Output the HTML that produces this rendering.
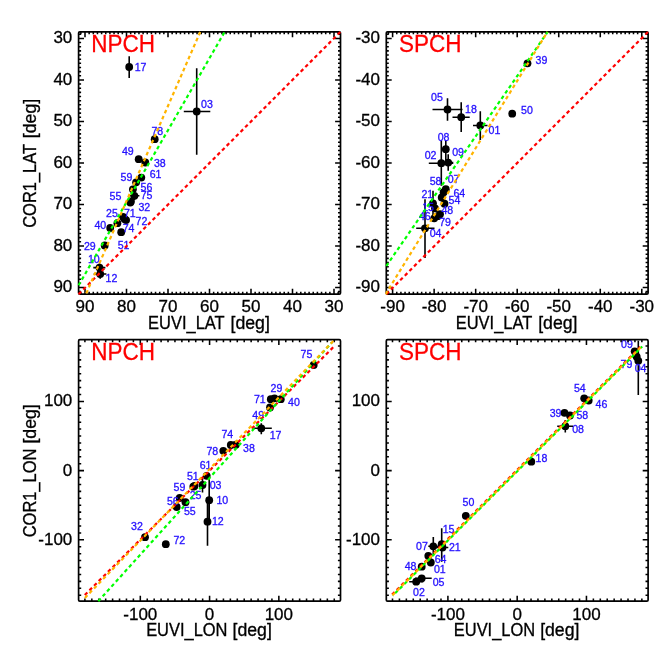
<!DOCTYPE html><html><head><meta charset="utf-8"><title>plot</title><style>html,body{margin:0;padding:0;background:#fff}svg{display:block;will-change:transform}text{font-family:"Liberation Sans",sans-serif}.t{font-size:17px;fill:#000;stroke:#000;stroke-width:0.3px}.l{font-size:10.6px;fill:#2410ff;stroke:#2410ff;stroke-width:0.3px}.p{font-size:22.5px;fill:#f00;stroke:#f00;stroke-width:0.25px}</style></head><body>
<svg width="654" height="654" viewBox="0 0 654 654">
<rect width="654" height="654" fill="#fff"/>
<defs>
<clipPath id="c0"><rect x="77.6" y="30.8" width="263.90" height="264.40"/></clipPath>
<clipPath id="c1"><rect x="385.3" y="30.8" width="263.80" height="264.40"/></clipPath>
<clipPath id="c2"><rect x="77.6" y="338.7" width="263.90" height="263.50"/></clipPath>
<clipPath id="c3"><rect x="385.3" y="338.7" width="263.80" height="263.50"/></clipPath>
</defs>
<path d="M129.2 56.3V78M183.8 111.5H210.3M196.7 68.3V154.7M129.4 195.8H139.4M134.4 191.3V200.3M93.3 267.6H105.4M99.5 263.5V271.7M93.7 274H106.4M100.2 269.4V278.8" stroke="#000" stroke-width="1.6" fill="none"/>
<circle cx="129.2" cy="67" r="3.9"/>
<circle cx="196.7" cy="111.5" r="3.9"/>
<circle cx="154.7" cy="139.2" r="3.9"/>
<circle cx="138.7" cy="159.2" r="3.9"/>
<circle cx="145.3" cy="162.5" r="3.9"/>
<circle cx="141.3" cy="177.6" r="3.9"/>
<circle cx="136.1" cy="182.3" r="3.9"/>
<circle cx="132.9" cy="189.3" r="3.9"/>
<circle cx="134.4" cy="195.8" r="3.9"/>
<circle cx="130.3" cy="202.6" r="3.9"/>
<circle cx="130.9" cy="201.4" r="3.9"/>
<circle cx="117.4" cy="223.2" r="3.9"/>
<circle cx="123" cy="216.8" r="3.9"/>
<circle cx="126.1" cy="220.1" r="3.9"/>
<circle cx="110.2" cy="228" r="3.9"/>
<circle cx="121.2" cy="232.2" r="3.9"/>
<circle cx="124.5" cy="219" r="3.9"/>
<circle cx="104.7" cy="245.5" r="3.9"/>
<circle cx="99.5" cy="267.6" r="3.9"/>
<circle cx="100.2" cy="274" r="3.9"/>
<text x="134.7" y="71.3" class="l">17</text>
<text x="201.0" y="107.5" class="l">03</text>
<text x="151.39999999999998" y="135" class="l">78</text>
<text x="121.9" y="155.3" class="l">49</text>
<text x="153.89999999999998" y="166.7" class="l">38</text>
<text x="149.7" y="177.5" class="l">61</text>
<text x="120.5" y="181.3" class="l">59</text>
<text x="140.5" y="190.8" class="l">56</text>
<text x="140.7" y="199.2" class="l">75</text>
<text x="109.5" y="200.3" class="l">55</text>
<text x="138.39999999999998" y="211" class="l">32</text>
<text x="106.0" y="216.7" class="l">25</text>
<text x="123.9" y="216.7" class="l">71</text>
<text x="135.5" y="224.5" class="l">72</text>
<text x="94.4" y="228.8" class="l">40</text>
<text x="122.7" y="231.7" class="l">74</text>
<text x="117.7" y="248.7" class="l">51</text>
<text x="83.9" y="250" class="l">29</text>
<text x="87.9" y="263.1" class="l">10</text>
<text x="105.5" y="282.0" class="l">12</text>
<rect x="78.6" y="31.8" width="261.90" height="262.40" fill="none" stroke="#000" stroke-width="1.7" stroke-linejoin="round" rx="1.2"/>
<path d="M338.15 31.8v2.5M338.15 294.2v-2.5M334.00 31.8v5.4M334.00 294.2v-5.4M329.85 31.8v2.5M329.85 294.2v-2.5M325.70 31.8v2.5M325.70 294.2v-2.5M321.55 31.8v2.5M321.55 294.2v-2.5M317.40 31.8v2.5M317.40 294.2v-2.5M313.25 31.8v2.5M313.25 294.2v-2.5M309.10 31.8v2.5M309.10 294.2v-2.5M304.95 31.8v2.5M304.95 294.2v-2.5M300.80 31.8v2.5M300.80 294.2v-2.5M296.65 31.8v2.5M296.65 294.2v-2.5M292.50 31.8v5.4M292.50 294.2v-5.4M288.35 31.8v2.5M288.35 294.2v-2.5M284.20 31.8v2.5M284.20 294.2v-2.5M280.05 31.8v2.5M280.05 294.2v-2.5M275.90 31.8v2.5M275.90 294.2v-2.5M271.75 31.8v2.5M271.75 294.2v-2.5M267.60 31.8v2.5M267.60 294.2v-2.5M263.45 31.8v2.5M263.45 294.2v-2.5M259.30 31.8v2.5M259.30 294.2v-2.5M255.15 31.8v2.5M255.15 294.2v-2.5M251.00 31.8v5.4M251.00 294.2v-5.4M246.85 31.8v2.5M246.85 294.2v-2.5M242.70 31.8v2.5M242.70 294.2v-2.5M238.55 31.8v2.5M238.55 294.2v-2.5M234.40 31.8v2.5M234.40 294.2v-2.5M230.25 31.8v2.5M230.25 294.2v-2.5M226.10 31.8v2.5M226.10 294.2v-2.5M221.95 31.8v2.5M221.95 294.2v-2.5M217.80 31.8v2.5M217.80 294.2v-2.5M213.65 31.8v2.5M213.65 294.2v-2.5M209.50 31.8v5.4M209.50 294.2v-5.4M205.35 31.8v2.5M205.35 294.2v-2.5M201.20 31.8v2.5M201.20 294.2v-2.5M197.05 31.8v2.5M197.05 294.2v-2.5M192.90 31.8v2.5M192.90 294.2v-2.5M188.75 31.8v2.5M188.75 294.2v-2.5M184.60 31.8v2.5M184.60 294.2v-2.5M180.45 31.8v2.5M180.45 294.2v-2.5M176.30 31.8v2.5M176.30 294.2v-2.5M172.15 31.8v2.5M172.15 294.2v-2.5M168.00 31.8v5.4M168.00 294.2v-5.4M163.85 31.8v2.5M163.85 294.2v-2.5M159.70 31.8v2.5M159.70 294.2v-2.5M155.55 31.8v2.5M155.55 294.2v-2.5M151.40 31.8v2.5M151.40 294.2v-2.5M147.25 31.8v2.5M147.25 294.2v-2.5M143.10 31.8v2.5M143.10 294.2v-2.5M138.95 31.8v2.5M138.95 294.2v-2.5M134.80 31.8v2.5M134.80 294.2v-2.5M130.65 31.8v2.5M130.65 294.2v-2.5M126.50 31.8v5.4M126.50 294.2v-5.4M122.35 31.8v2.5M122.35 294.2v-2.5M118.20 31.8v2.5M118.20 294.2v-2.5M114.05 31.8v2.5M114.05 294.2v-2.5M109.90 31.8v2.5M109.90 294.2v-2.5M105.75 31.8v2.5M105.75 294.2v-2.5M101.60 31.8v2.5M101.60 294.2v-2.5M97.45 31.8v2.5M97.45 294.2v-2.5M93.30 31.8v2.5M93.30 294.2v-2.5M89.15 31.8v2.5M89.15 294.2v-2.5M85.00 31.8v5.4M85.00 294.2v-5.4M80.85 31.8v2.5M80.85 294.2v-2.5M78.6 34.25h2.5M340.5 34.25h-2.5M78.6 38.40h5.4M340.5 38.40h-5.4M78.6 42.55h2.5M340.5 42.55h-2.5M78.6 46.70h2.5M340.5 46.70h-2.5M78.6 50.85h2.5M340.5 50.85h-2.5M78.6 55.00h2.5M340.5 55.00h-2.5M78.6 59.15h2.5M340.5 59.15h-2.5M78.6 63.30h2.5M340.5 63.30h-2.5M78.6 67.46h2.5M340.5 67.46h-2.5M78.6 71.61h2.5M340.5 71.61h-2.5M78.6 75.76h2.5M340.5 75.76h-2.5M78.6 79.91h5.4M340.5 79.91h-5.4M78.6 84.06h2.5M340.5 84.06h-2.5M78.6 88.21h2.5M340.5 88.21h-2.5M78.6 92.36h2.5M340.5 92.36h-2.5M78.6 96.51h2.5M340.5 96.51h-2.5M78.6 100.66h2.5M340.5 100.66h-2.5M78.6 104.81h2.5M340.5 104.81h-2.5M78.6 108.96h2.5M340.5 108.96h-2.5M78.6 113.11h2.5M340.5 113.11h-2.5M78.6 117.27h2.5M340.5 117.27h-2.5M78.6 121.42h5.4M340.5 121.42h-5.4M78.6 125.57h2.5M340.5 125.57h-2.5M78.6 129.72h2.5M340.5 129.72h-2.5M78.6 133.87h2.5M340.5 133.87h-2.5M78.6 138.02h2.5M340.5 138.02h-2.5M78.6 142.17h2.5M340.5 142.17h-2.5M78.6 146.32h2.5M340.5 146.32h-2.5M78.6 150.47h2.5M340.5 150.47h-2.5M78.6 154.62h2.5M340.5 154.62h-2.5M78.6 158.77h2.5M340.5 158.77h-2.5M78.6 162.92h5.4M340.5 162.92h-5.4M78.6 167.08h2.5M340.5 167.08h-2.5M78.6 171.23h2.5M340.5 171.23h-2.5M78.6 175.38h2.5M340.5 175.38h-2.5M78.6 179.53h2.5M340.5 179.53h-2.5M78.6 183.68h2.5M340.5 183.68h-2.5M78.6 187.83h2.5M340.5 187.83h-2.5M78.6 191.98h2.5M340.5 191.98h-2.5M78.6 196.13h2.5M340.5 196.13h-2.5M78.6 200.28h2.5M340.5 200.28h-2.5M78.6 204.43h5.4M340.5 204.43h-5.4M78.6 208.58h2.5M340.5 208.58h-2.5M78.6 212.73h2.5M340.5 212.73h-2.5M78.6 216.89h2.5M340.5 216.89h-2.5M78.6 221.04h2.5M340.5 221.04h-2.5M78.6 225.19h2.5M340.5 225.19h-2.5M78.6 229.34h2.5M340.5 229.34h-2.5M78.6 233.49h2.5M340.5 233.49h-2.5M78.6 237.64h2.5M340.5 237.64h-2.5M78.6 241.79h2.5M340.5 241.79h-2.5M78.6 245.94h5.4M340.5 245.94h-5.4M78.6 250.09h2.5M340.5 250.09h-2.5M78.6 254.24h2.5M340.5 254.24h-2.5M78.6 258.39h2.5M340.5 258.39h-2.5M78.6 262.54h2.5M340.5 262.54h-2.5M78.6 266.70h2.5M340.5 266.70h-2.5M78.6 270.85h2.5M340.5 270.85h-2.5M78.6 275.00h2.5M340.5 275.00h-2.5M78.6 279.15h2.5M340.5 279.15h-2.5M78.6 283.30h2.5M340.5 283.30h-2.5M78.6 287.45h5.4M340.5 287.45h-5.4M78.6 291.60h2.5M340.5 291.60h-2.5" stroke="#000" stroke-width="1.55" fill="none"/>
<g clip-path="url(#c0)">
<line x1="78.6" y1="294.2" x2="340.5" y2="31.8" stroke="#ff0000" stroke-width="2.2" stroke-dasharray="3.6 2.95" stroke-dashoffset="0"/>
<line x1="78.6" y1="285.3" x2="224.6" y2="32" stroke="#00ff00" stroke-width="2.2" stroke-dasharray="3.6 2.95" stroke-dashoffset="0"/>
<line x1="86.3" y1="293.4" x2="200.2" y2="32" stroke="#ffb400" stroke-width="2.2" stroke-dasharray="3.6 2.95" stroke-dashoffset="0"/>
</g>
<text x="85.00" y="312.2" text-anchor="middle" class="t">90</text>
<text x="126.50" y="312.2" text-anchor="middle" class="t">80</text>
<text x="168.00" y="312.2" text-anchor="middle" class="t">70</text>
<text x="209.50" y="312.2" text-anchor="middle" class="t">60</text>
<text x="251.00" y="312.2" text-anchor="middle" class="t">50</text>
<text x="292.50" y="312.2" text-anchor="middle" class="t">40</text>
<text x="334.00" y="312.2" text-anchor="middle" class="t">30</text>
<text x="72.3" y="43.30" text-anchor="end" class="t">30</text>
<text x="72.3" y="84.81" text-anchor="end" class="t">40</text>
<text x="72.3" y="126.32" text-anchor="end" class="t">50</text>
<text x="72.3" y="167.82" text-anchor="end" class="t">60</text>
<text x="72.3" y="209.33" text-anchor="end" class="t">70</text>
<text x="72.3" y="250.84" text-anchor="end" class="t">80</text>
<text x="72.3" y="292.35" text-anchor="end" class="t">90</text>
<text transform="translate(91.3 51.8) scale(1.0 1.1)" class="p">NPCH</text>
<text transform="translate(148.11 328.6) scale(0.968 1.06)" class="t">EUVI_LAT</text><text transform="translate(230.50 328.6) scale(1.04 1.06)" class="t">[deg]</text>
<g transform="translate(35.5 163.00) rotate(-90)"><text transform="translate(-64.78 0) scale(0.968 1.06)" class="t">COR1_LAT</text><text transform="translate(24.82 0) scale(1.04 1.06)" class="t">[deg]</text></g>
<path d="M432.5 109.5H462.5M447.5 98.3V120.8M452.5 117.2H469.7M461.2 102.2V132M473 125.5H487.5M480.3 111.2V140M445.8 140.5V160M428.8 163.2H453.3M441.3 140.5V185.8M444 162.6H453.3M448.2 154.3V170.8M433 190.8V216M416.2 228.3H434.5M425 199.2V258" stroke="#000" stroke-width="1.6" fill="none"/>
<circle cx="527.5" cy="63.3" r="3.9"/>
<circle cx="447.5" cy="109.5" r="3.9"/>
<circle cx="461.2" cy="117.2" r="3.9"/>
<circle cx="480.3" cy="125.5" r="3.9"/>
<circle cx="512.2" cy="113.7" r="3.9"/>
<circle cx="445.8" cy="149.2" r="3.9"/>
<circle cx="441.3" cy="163.2" r="3.9"/>
<circle cx="448.2" cy="162.6" r="3.9"/>
<circle cx="445.8" cy="189.2" r="3.9"/>
<circle cx="443.6" cy="192.2" r="3.9"/>
<circle cx="441.7" cy="197.5" r="3.9"/>
<circle cx="444.5" cy="203.7" r="3.9"/>
<circle cx="433" cy="203.3" r="3.9"/>
<circle cx="435" cy="208.3" r="3.9"/>
<circle cx="440" cy="214.2" r="3.9"/>
<circle cx="434.2" cy="218.3" r="3.9"/>
<circle cx="437.6" cy="216.2" r="3.9"/>
<circle cx="425" cy="228.3" r="3.9"/>
<text x="535.5" y="63.7" class="l">39</text>
<text x="431.0" y="101.2" class="l">05</text>
<text x="465.0" y="113" class="l">18</text>
<text x="488.5" y="133.8" class="l">01</text>
<text x="521.0" y="113.9" class="l">50</text>
<text x="437.7" y="140.8" class="l">08</text>
<text x="424.7" y="159.2" class="l">02</text>
<text x="452.2" y="156" class="l">09</text>
<text x="447.7" y="183.3" class="l">07</text>
<text x="429.7" y="185" class="l">58</text>
<text x="453.4" y="196.7" class="l">64</text>
<text x="448.5" y="204.2" class="l">54</text>
<text x="421.4" y="198" class="l">21</text>
<text x="422.2" y="211.3" class="l">15</text>
<text x="441.4" y="213.8" class="l">48</text>
<text x="418.9" y="219.7" class="l">46</text>
<text x="439.2" y="226.3" class="l">79</text>
<text x="429.7" y="237.2" class="l">04</text>
<rect x="386.3" y="31.8" width="261.80" height="262.40" fill="none" stroke="#000" stroke-width="1.7" stroke-linejoin="round" rx="1.2"/>
<path d="M388.45 31.8v2.5M388.45 294.2v-2.5M392.60 31.8v5.4M392.60 294.2v-5.4M396.75 31.8v2.5M396.75 294.2v-2.5M400.91 31.8v2.5M400.91 294.2v-2.5M405.06 31.8v2.5M405.06 294.2v-2.5M409.21 31.8v2.5M409.21 294.2v-2.5M413.37 31.8v2.5M413.37 294.2v-2.5M417.52 31.8v2.5M417.52 294.2v-2.5M421.67 31.8v2.5M421.67 294.2v-2.5M425.83 31.8v2.5M425.83 294.2v-2.5M429.98 31.8v2.5M429.98 294.2v-2.5M434.13 31.8v5.4M434.13 294.2v-5.4M438.29 31.8v2.5M438.29 294.2v-2.5M442.44 31.8v2.5M442.44 294.2v-2.5M446.59 31.8v2.5M446.59 294.2v-2.5M450.75 31.8v2.5M450.75 294.2v-2.5M454.90 31.8v2.5M454.90 294.2v-2.5M459.05 31.8v2.5M459.05 294.2v-2.5M463.21 31.8v2.5M463.21 294.2v-2.5M467.36 31.8v2.5M467.36 294.2v-2.5M471.51 31.8v2.5M471.51 294.2v-2.5M475.67 31.8v5.4M475.67 294.2v-5.4M479.82 31.8v2.5M479.82 294.2v-2.5M483.97 31.8v2.5M483.97 294.2v-2.5M488.13 31.8v2.5M488.13 294.2v-2.5M492.28 31.8v2.5M492.28 294.2v-2.5M496.43 31.8v2.5M496.43 294.2v-2.5M500.59 31.8v2.5M500.59 294.2v-2.5M504.74 31.8v2.5M504.74 294.2v-2.5M508.89 31.8v2.5M508.89 294.2v-2.5M513.05 31.8v2.5M513.05 294.2v-2.5M517.20 31.8v5.4M517.20 294.2v-5.4M521.35 31.8v2.5M521.35 294.2v-2.5M525.51 31.8v2.5M525.51 294.2v-2.5M529.66 31.8v2.5M529.66 294.2v-2.5M533.81 31.8v2.5M533.81 294.2v-2.5M537.97 31.8v2.5M537.97 294.2v-2.5M542.12 31.8v2.5M542.12 294.2v-2.5M546.27 31.8v2.5M546.27 294.2v-2.5M550.43 31.8v2.5M550.43 294.2v-2.5M554.58 31.8v2.5M554.58 294.2v-2.5M558.73 31.8v5.4M558.73 294.2v-5.4M562.89 31.8v2.5M562.89 294.2v-2.5M567.04 31.8v2.5M567.04 294.2v-2.5M571.19 31.8v2.5M571.19 294.2v-2.5M575.35 31.8v2.5M575.35 294.2v-2.5M579.50 31.8v2.5M579.50 294.2v-2.5M583.65 31.8v2.5M583.65 294.2v-2.5M587.81 31.8v2.5M587.81 294.2v-2.5M591.96 31.8v2.5M591.96 294.2v-2.5M596.11 31.8v2.5M596.11 294.2v-2.5M600.27 31.8v5.4M600.27 294.2v-5.4M604.42 31.8v2.5M604.42 294.2v-2.5M608.57 31.8v2.5M608.57 294.2v-2.5M612.73 31.8v2.5M612.73 294.2v-2.5M616.88 31.8v2.5M616.88 294.2v-2.5M621.03 31.8v2.5M621.03 294.2v-2.5M625.19 31.8v2.5M625.19 294.2v-2.5M629.34 31.8v2.5M629.34 294.2v-2.5M633.49 31.8v2.5M633.49 294.2v-2.5M637.65 31.8v2.5M637.65 294.2v-2.5M641.80 31.8v5.4M641.80 294.2v-5.4M645.95 31.8v2.5M645.95 294.2v-2.5M386.3 291.60h2.5M648.1 291.60h-2.5M386.3 287.45h5.4M648.1 287.45h-5.4M386.3 283.30h2.5M648.1 283.30h-2.5M386.3 279.15h2.5M648.1 279.15h-2.5M386.3 275.00h2.5M648.1 275.00h-2.5M386.3 270.85h2.5M648.1 270.85h-2.5M386.3 266.70h2.5M648.1 266.70h-2.5M386.3 262.54h2.5M648.1 262.54h-2.5M386.3 258.39h2.5M648.1 258.39h-2.5M386.3 254.24h2.5M648.1 254.24h-2.5M386.3 250.09h2.5M648.1 250.09h-2.5M386.3 245.94h5.4M648.1 245.94h-5.4M386.3 241.79h2.5M648.1 241.79h-2.5M386.3 237.64h2.5M648.1 237.64h-2.5M386.3 233.49h2.5M648.1 233.49h-2.5M386.3 229.34h2.5M648.1 229.34h-2.5M386.3 225.19h2.5M648.1 225.19h-2.5M386.3 221.04h2.5M648.1 221.04h-2.5M386.3 216.89h2.5M648.1 216.89h-2.5M386.3 212.73h2.5M648.1 212.73h-2.5M386.3 208.58h2.5M648.1 208.58h-2.5M386.3 204.43h5.4M648.1 204.43h-5.4M386.3 200.28h2.5M648.1 200.28h-2.5M386.3 196.13h2.5M648.1 196.13h-2.5M386.3 191.98h2.5M648.1 191.98h-2.5M386.3 187.83h2.5M648.1 187.83h-2.5M386.3 183.68h2.5M648.1 183.68h-2.5M386.3 179.53h2.5M648.1 179.53h-2.5M386.3 175.38h2.5M648.1 175.38h-2.5M386.3 171.23h2.5M648.1 171.23h-2.5M386.3 167.08h2.5M648.1 167.08h-2.5M386.3 162.92h5.4M648.1 162.92h-5.4M386.3 158.77h2.5M648.1 158.77h-2.5M386.3 154.62h2.5M648.1 154.62h-2.5M386.3 150.47h2.5M648.1 150.47h-2.5M386.3 146.32h2.5M648.1 146.32h-2.5M386.3 142.17h2.5M648.1 142.17h-2.5M386.3 138.02h2.5M648.1 138.02h-2.5M386.3 133.87h2.5M648.1 133.87h-2.5M386.3 129.72h2.5M648.1 129.72h-2.5M386.3 125.57h2.5M648.1 125.57h-2.5M386.3 121.42h5.4M648.1 121.42h-5.4M386.3 117.27h2.5M648.1 117.27h-2.5M386.3 113.11h2.5M648.1 113.11h-2.5M386.3 108.96h2.5M648.1 108.96h-2.5M386.3 104.81h2.5M648.1 104.81h-2.5M386.3 100.66h2.5M648.1 100.66h-2.5M386.3 96.51h2.5M648.1 96.51h-2.5M386.3 92.36h2.5M648.1 92.36h-2.5M386.3 88.21h2.5M648.1 88.21h-2.5M386.3 84.06h2.5M648.1 84.06h-2.5M386.3 79.91h5.4M648.1 79.91h-5.4M386.3 75.76h2.5M648.1 75.76h-2.5M386.3 71.61h2.5M648.1 71.61h-2.5M386.3 67.46h2.5M648.1 67.46h-2.5M386.3 63.30h2.5M648.1 63.30h-2.5M386.3 59.15h2.5M648.1 59.15h-2.5M386.3 55.00h2.5M648.1 55.00h-2.5M386.3 50.85h2.5M648.1 50.85h-2.5M386.3 46.70h2.5M648.1 46.70h-2.5M386.3 42.55h2.5M648.1 42.55h-2.5M386.3 38.40h5.4M648.1 38.40h-5.4M386.3 34.25h2.5M648.1 34.25h-2.5" stroke="#000" stroke-width="1.55" fill="none"/>
<g clip-path="url(#c1)">
<line x1="386.3" y1="294.2" x2="648.1" y2="31.8" stroke="#ff0000" stroke-width="2.2" stroke-dasharray="3.6 2.95" stroke-dashoffset="0"/>
<line x1="386.3" y1="266" x2="547.7" y2="31.8" stroke="#00ff00" stroke-width="2.2" stroke-dasharray="3.6 2.95" stroke-dashoffset="0"/>
<line x1="385.5" y1="294.2" x2="547.5" y2="31.8" stroke="#ffb400" stroke-width="2.2" stroke-dasharray="3.6 2.95" stroke-dashoffset="0"/>
</g>
<text x="392.60" y="312.2" text-anchor="middle" class="t">-90</text>
<text x="434.13" y="312.2" text-anchor="middle" class="t">-80</text>
<text x="475.67" y="312.2" text-anchor="middle" class="t">-70</text>
<text x="517.20" y="312.2" text-anchor="middle" class="t">-60</text>
<text x="558.73" y="312.2" text-anchor="middle" class="t">-50</text>
<text x="600.27" y="312.2" text-anchor="middle" class="t">-40</text>
<text x="641.80" y="312.2" text-anchor="middle" class="t">-30</text>
<text x="380.0" y="43.30" text-anchor="end" class="t">-30</text>
<text x="380.0" y="84.81" text-anchor="end" class="t">-40</text>
<text x="380.0" y="126.32" text-anchor="end" class="t">-50</text>
<text x="380.0" y="167.82" text-anchor="end" class="t">-60</text>
<text x="380.0" y="209.33" text-anchor="end" class="t">-70</text>
<text x="380.0" y="250.84" text-anchor="end" class="t">-80</text>
<text x="380.0" y="292.35" text-anchor="end" class="t">-90</text>
<text transform="translate(399.0 51.8) scale(1.0 1.1)" class="p">SPCH</text>
<text transform="translate(455.76 328.6) scale(0.968 1.06)" class="t">EUVI_LAT</text><text transform="translate(538.15 328.6) scale(1.04 1.06)" class="t">[deg]</text>
<path d="M253.2 428.3H271.8M261.3 423.3V434.2M202.5 478V492.5M209.2 476.7V523.7M207.5 497.6V545.8" stroke="#000" stroke-width="1.6" fill="none"/>
<circle cx="313.7" cy="365" r="3.9"/>
<circle cx="274.5" cy="398.3" r="3.9"/>
<circle cx="270.8" cy="399.2" r="3.9"/>
<circle cx="280.8" cy="399.2" r="3.9"/>
<circle cx="270" cy="407.5" r="3.9"/>
<circle cx="261.3" cy="428.3" r="3.9"/>
<circle cx="230.8" cy="445" r="3.9"/>
<circle cx="235.8" cy="444.7" r="3.9"/>
<circle cx="223.3" cy="450.8" r="3.9"/>
<circle cx="206.7" cy="475.8" r="3.9"/>
<circle cx="193.3" cy="486.7" r="3.9"/>
<circle cx="202.5" cy="485" r="3.9"/>
<circle cx="194.5" cy="486" r="3.9"/>
<circle cx="179.7" cy="498" r="3.9"/>
<circle cx="176.7" cy="507" r="3.9"/>
<circle cx="185.5" cy="502.2" r="3.9"/>
<circle cx="209.2" cy="500.2" r="3.9"/>
<circle cx="207.5" cy="521.7" r="3.9"/>
<circle cx="145" cy="537.2" r="3.9"/>
<circle cx="165.8" cy="544.2" r="3.9"/>
<text x="300.5" y="358.3" class="l">75</text>
<text x="270.5" y="391.7" class="l">29</text>
<text x="253.89999999999998" y="403" class="l">71</text>
<text x="288.0" y="405.8" class="l">40</text>
<text x="252.29999999999998" y="418.7" class="l">49</text>
<text x="269.7" y="438.7" class="l">17</text>
<text x="221.39999999999998" y="438" class="l">74</text>
<text x="243.0" y="451.7" class="l">38</text>
<text x="206.39999999999998" y="455" class="l">78</text>
<text x="199.7" y="469.2" class="l">61</text>
<text x="186.89999999999998" y="480.3" class="l">51</text>
<text x="209.7" y="488.8" class="l">03</text>
<text x="189.7" y="499" class="l">25</text>
<text x="173.5" y="491.2" class="l">59</text>
<text x="166.89999999999998" y="505" class="l">56</text>
<text x="183.89999999999998" y="515.3" class="l">55</text>
<text x="216.39999999999998" y="504.2" class="l">10</text>
<text x="211.89999999999998" y="525.3" class="l">12</text>
<text x="131.0" y="530" class="l">32</text>
<text x="173.39999999999998" y="544.2" class="l">72</text>
<rect x="78.6" y="339.7" width="261.90" height="261.50" fill="none" stroke="#000" stroke-width="1.7" stroke-linejoin="round" rx="1.2"/>
<path d="M84.90 339.7v2.6M84.90 601.2v-2.6M91.83 339.7v2.6M91.83 601.2v-2.6M98.75 339.7v2.6M98.75 601.2v-2.6M105.68 339.7v2.6M105.68 601.2v-2.6M112.61 339.7v2.6M112.61 601.2v-2.6M119.53 339.7v2.6M119.53 601.2v-2.6M126.46 339.7v2.6M126.46 601.2v-2.6M133.39 339.7v2.6M133.39 601.2v-2.6M140.31 339.7v5.4M140.31 601.2v-5.4M147.24 339.7v2.6M147.24 601.2v-2.6M154.17 339.7v2.6M154.17 601.2v-2.6M161.09 339.7v2.6M161.09 601.2v-2.6M168.02 339.7v2.6M168.02 601.2v-2.6M174.95 339.7v2.6M174.95 601.2v-2.6M181.88 339.7v2.6M181.88 601.2v-2.6M188.80 339.7v2.6M188.80 601.2v-2.6M195.73 339.7v2.6M195.73 601.2v-2.6M202.66 339.7v2.6M202.66 601.2v-2.6M209.58 339.7v5.4M209.58 601.2v-5.4M216.51 339.7v2.6M216.51 601.2v-2.6M223.44 339.7v2.6M223.44 601.2v-2.6M230.36 339.7v2.6M230.36 601.2v-2.6M237.29 339.7v2.6M237.29 601.2v-2.6M244.22 339.7v2.6M244.22 601.2v-2.6M251.14 339.7v2.6M251.14 601.2v-2.6M258.07 339.7v2.6M258.07 601.2v-2.6M265.00 339.7v2.6M265.00 601.2v-2.6M271.92 339.7v2.6M271.92 601.2v-2.6M278.85 339.7v5.4M278.85 601.2v-5.4M285.78 339.7v2.6M285.78 601.2v-2.6M292.70 339.7v2.6M292.70 601.2v-2.6M299.63 339.7v2.6M299.63 601.2v-2.6M306.56 339.7v2.6M306.56 601.2v-2.6M313.48 339.7v2.6M313.48 601.2v-2.6M320.41 339.7v2.6M320.41 601.2v-2.6M327.34 339.7v2.6M327.34 601.2v-2.6M334.26 339.7v2.6M334.26 601.2v-2.6M78.6 595.20h2.6M340.5 595.20h-2.6M78.6 588.28h2.6M340.5 588.28h-2.6M78.6 581.36h2.6M340.5 581.36h-2.6M78.6 574.44h2.6M340.5 574.44h-2.6M78.6 567.51h2.6M340.5 567.51h-2.6M78.6 560.59h2.6M340.5 560.59h-2.6M78.6 553.67h2.6M340.5 553.67h-2.6M78.6 546.75h2.6M340.5 546.75h-2.6M78.6 539.83h5.4M340.5 539.83h-5.4M78.6 532.91h2.6M340.5 532.91h-2.6M78.6 525.99h2.6M340.5 525.99h-2.6M78.6 519.06h2.6M340.5 519.06h-2.6M78.6 512.14h2.6M340.5 512.14h-2.6M78.6 505.22h2.6M340.5 505.22h-2.6M78.6 498.30h2.6M340.5 498.30h-2.6M78.6 491.38h2.6M340.5 491.38h-2.6M78.6 484.46h2.6M340.5 484.46h-2.6M78.6 477.54h2.6M340.5 477.54h-2.6M78.6 470.61h5.4M340.5 470.61h-5.4M78.6 463.69h2.6M340.5 463.69h-2.6M78.6 456.77h2.6M340.5 456.77h-2.6M78.6 449.85h2.6M340.5 449.85h-2.6M78.6 442.93h2.6M340.5 442.93h-2.6M78.6 436.01h2.6M340.5 436.01h-2.6M78.6 429.09h2.6M340.5 429.09h-2.6M78.6 422.16h2.6M340.5 422.16h-2.6M78.6 415.24h2.6M340.5 415.24h-2.6M78.6 408.32h2.6M340.5 408.32h-2.6M78.6 401.40h5.4M340.5 401.40h-5.4M78.6 394.48h2.6M340.5 394.48h-2.6M78.6 387.56h2.6M340.5 387.56h-2.6M78.6 380.64h2.6M340.5 380.64h-2.6M78.6 373.71h2.6M340.5 373.71h-2.6M78.6 366.79h2.6M340.5 366.79h-2.6M78.6 359.87h2.6M340.5 359.87h-2.6M78.6 352.95h2.6M340.5 352.95h-2.6M78.6 346.03h2.6M340.5 346.03h-2.6" stroke="#000" stroke-width="1.55" fill="none"/>
<g clip-path="url(#c2)">
<line x1="84.8" y1="595" x2="334.3" y2="346.2" stroke="#ff0000" stroke-width="2.2" stroke-dasharray="3.6 2.95" stroke-dashoffset="0"/>
<line x1="98.3" y1="601.2" x2="331.8" y2="342.5" stroke="#00ff00" stroke-width="2.2" stroke-dasharray="3.6 2.95" stroke-dashoffset="0"/>
<line x1="84.9" y1="597.9" x2="334.3" y2="340.0" stroke="#ffb400" stroke-width="2.2" stroke-dasharray="3.6 2.95" stroke-dashoffset="0"/>
</g>
<text x="140.31" y="620.0" text-anchor="middle" class="t">-100</text>
<text x="209.58" y="620.0" text-anchor="middle" class="t">0</text>
<text x="278.85" y="620.0" text-anchor="middle" class="t">100</text>
<text x="72.3" y="544.73" text-anchor="end" class="t">-100</text>
<text x="72.3" y="475.51" text-anchor="end" class="t">0</text>
<text x="72.3" y="406.30" text-anchor="end" class="t">100</text>
<text transform="translate(91.3 359.7) scale(1.0 1.1)" class="p">NPCH</text>
<text transform="translate(146.13 636.4) scale(0.968 1.06)" class="t">EUVI_LON</text><text transform="translate(232.48 636.4) scale(1.04 1.06)" class="t">[deg]</text>
<g transform="translate(35.5 470.45) rotate(-90)"><text transform="translate(-66.81 0) scale(0.968 1.06)" class="t">COR1_LON</text><text transform="translate(26.85 0) scale(1.04 1.06)" class="t">[deg]</text></g>
<path d="M638.3 340.8V395M557.2 426.2H573M565.3 420V432.5M441.7 528.3V561.7M436.7 547.5H448.3M428.3 546.3H438.3M433.3 537V555M415 578.3H431.7M409.2 581.7H423.3" stroke="#000" stroke-width="1.6" fill="none"/>
<circle cx="634.7" cy="351.3" r="3.9"/>
<circle cx="636.7" cy="356.7" r="3.9"/>
<circle cx="638.3" cy="360.8" r="3.9"/>
<circle cx="584.2" cy="398.3" r="3.9"/>
<circle cx="588.7" cy="400.5" r="3.9"/>
<circle cx="564.5" cy="412.8" r="3.9"/>
<circle cx="570" cy="415.5" r="3.9"/>
<circle cx="565.3" cy="426.2" r="3.9"/>
<circle cx="531.3" cy="461.7" r="3.9"/>
<circle cx="465.8" cy="515.8" r="3.9"/>
<circle cx="441.7" cy="544.2" r="3.9"/>
<circle cx="442.5" cy="547.5" r="3.9"/>
<circle cx="433.3" cy="546.3" r="3.9"/>
<circle cx="428.3" cy="555.8" r="3.9"/>
<circle cx="430.8" cy="562.5" r="3.9"/>
<circle cx="421.7" cy="566.7" r="3.9"/>
<circle cx="421.7" cy="578.3" r="3.9"/>
<circle cx="416.2" cy="581.7" r="3.9"/>
<text x="621.0" y="348.3" class="l">09</text>
<text x="620.5" y="367.5" class="l">79</text>
<text x="634.7" y="371.7" class="l">04</text>
<text x="573.9000000000001" y="391.7" class="l">54</text>
<text x="595.5" y="407.5" class="l">46</text>
<text x="549.7" y="416.7" class="l">39</text>
<text x="576.4000000000001" y="418.8" class="l">58</text>
<text x="572.2" y="433" class="l">08</text>
<text x="535.5" y="461.7" class="l">18</text>
<text x="462.5" y="506.2" class="l">50</text>
<text x="442.7" y="532.8" class="l">15</text>
<text x="448.9" y="550.8" class="l">21</text>
<text x="416.0" y="550" class="l">07</text>
<text x="434.7" y="562.5" class="l">64</text>
<text x="433.9" y="573" class="l">01</text>
<text x="404.7" y="570.3" class="l">48</text>
<text x="432.7" y="585.8" class="l">05</text>
<text x="413.0" y="595.8" class="l">02</text>
<rect x="386.3" y="339.7" width="261.80" height="261.50" fill="none" stroke="#000" stroke-width="1.7" stroke-linejoin="round" rx="1.2"/>
<path d="M392.50 339.7v2.6M392.50 601.2v-2.6M399.43 339.7v2.6M399.43 601.2v-2.6M406.35 339.7v2.6M406.35 601.2v-2.6M413.28 339.7v2.6M413.28 601.2v-2.6M420.21 339.7v2.6M420.21 601.2v-2.6M427.13 339.7v2.6M427.13 601.2v-2.6M434.06 339.7v2.6M434.06 601.2v-2.6M440.99 339.7v2.6M440.99 601.2v-2.6M447.91 339.7v5.4M447.91 601.2v-5.4M454.84 339.7v2.6M454.84 601.2v-2.6M461.77 339.7v2.6M461.77 601.2v-2.6M468.69 339.7v2.6M468.69 601.2v-2.6M475.62 339.7v2.6M475.62 601.2v-2.6M482.55 339.7v2.6M482.55 601.2v-2.6M489.48 339.7v2.6M489.48 601.2v-2.6M496.40 339.7v2.6M496.40 601.2v-2.6M503.33 339.7v2.6M503.33 601.2v-2.6M510.26 339.7v2.6M510.26 601.2v-2.6M517.18 339.7v5.4M517.18 601.2v-5.4M524.11 339.7v2.6M524.11 601.2v-2.6M531.04 339.7v2.6M531.04 601.2v-2.6M537.96 339.7v2.6M537.96 601.2v-2.6M544.89 339.7v2.6M544.89 601.2v-2.6M551.82 339.7v2.6M551.82 601.2v-2.6M558.74 339.7v2.6M558.74 601.2v-2.6M565.67 339.7v2.6M565.67 601.2v-2.6M572.60 339.7v2.6M572.60 601.2v-2.6M579.52 339.7v2.6M579.52 601.2v-2.6M586.45 339.7v5.4M586.45 601.2v-5.4M593.38 339.7v2.6M593.38 601.2v-2.6M600.30 339.7v2.6M600.30 601.2v-2.6M607.23 339.7v2.6M607.23 601.2v-2.6M614.16 339.7v2.6M614.16 601.2v-2.6M621.08 339.7v2.6M621.08 601.2v-2.6M628.01 339.7v2.6M628.01 601.2v-2.6M634.94 339.7v2.6M634.94 601.2v-2.6M641.86 339.7v2.6M641.86 601.2v-2.6M386.3 595.20h2.6M648.1 595.20h-2.6M386.3 588.28h2.6M648.1 588.28h-2.6M386.3 581.36h2.6M648.1 581.36h-2.6M386.3 574.44h2.6M648.1 574.44h-2.6M386.3 567.51h2.6M648.1 567.51h-2.6M386.3 560.59h2.6M648.1 560.59h-2.6M386.3 553.67h2.6M648.1 553.67h-2.6M386.3 546.75h2.6M648.1 546.75h-2.6M386.3 539.83h5.4M648.1 539.83h-5.4M386.3 532.91h2.6M648.1 532.91h-2.6M386.3 525.99h2.6M648.1 525.99h-2.6M386.3 519.06h2.6M648.1 519.06h-2.6M386.3 512.14h2.6M648.1 512.14h-2.6M386.3 505.22h2.6M648.1 505.22h-2.6M386.3 498.30h2.6M648.1 498.30h-2.6M386.3 491.38h2.6M648.1 491.38h-2.6M386.3 484.46h2.6M648.1 484.46h-2.6M386.3 477.54h2.6M648.1 477.54h-2.6M386.3 470.61h5.4M648.1 470.61h-5.4M386.3 463.69h2.6M648.1 463.69h-2.6M386.3 456.77h2.6M648.1 456.77h-2.6M386.3 449.85h2.6M648.1 449.85h-2.6M386.3 442.93h2.6M648.1 442.93h-2.6M386.3 436.01h2.6M648.1 436.01h-2.6M386.3 429.09h2.6M648.1 429.09h-2.6M386.3 422.16h2.6M648.1 422.16h-2.6M386.3 415.24h2.6M648.1 415.24h-2.6M386.3 408.32h2.6M648.1 408.32h-2.6M386.3 401.40h5.4M648.1 401.40h-5.4M386.3 394.48h2.6M648.1 394.48h-2.6M386.3 387.56h2.6M648.1 387.56h-2.6M386.3 380.64h2.6M648.1 380.64h-2.6M386.3 373.71h2.6M648.1 373.71h-2.6M386.3 366.79h2.6M648.1 366.79h-2.6M386.3 359.87h2.6M648.1 359.87h-2.6M386.3 352.95h2.6M648.1 352.95h-2.6M386.3 346.03h2.6M648.1 346.03h-2.6" stroke="#000" stroke-width="1.55" fill="none"/>
<g clip-path="url(#c3)">
<line x1="392.1" y1="594.6" x2="641.5" y2="345.8" stroke="#ff0000" stroke-width="2.2" stroke-dasharray="3.6 2.95" stroke-dashoffset="0"/>
<line x1="392.8" y1="595.6" x2="642.2" y2="346.5" stroke="#00ff00" stroke-width="2.2" stroke-dasharray="3.6 2.95" stroke-dashoffset="3.3"/>
<line x1="392.5" y1="595.3" x2="641.9" y2="346.2" stroke="#ffb400" stroke-width="2.2" stroke-dasharray="3.6 2.95" stroke-dashoffset="0"/>
</g>
<text x="447.91" y="620.0" text-anchor="middle" class="t">-100</text>
<text x="517.18" y="620.0" text-anchor="middle" class="t">0</text>
<text x="586.45" y="620.0" text-anchor="middle" class="t">100</text>
<text x="380.0" y="544.73" text-anchor="end" class="t">-100</text>
<text x="380.0" y="475.51" text-anchor="end" class="t">0</text>
<text x="380.0" y="406.30" text-anchor="end" class="t">100</text>
<text transform="translate(399.0 359.7) scale(1.0 1.1)" class="p">SPCH</text>
<text transform="translate(453.78 636.4) scale(0.968 1.06)" class="t">EUVI_LON</text><text transform="translate(540.13 636.4) scale(1.04 1.06)" class="t">[deg]</text>
</svg></body></html>
